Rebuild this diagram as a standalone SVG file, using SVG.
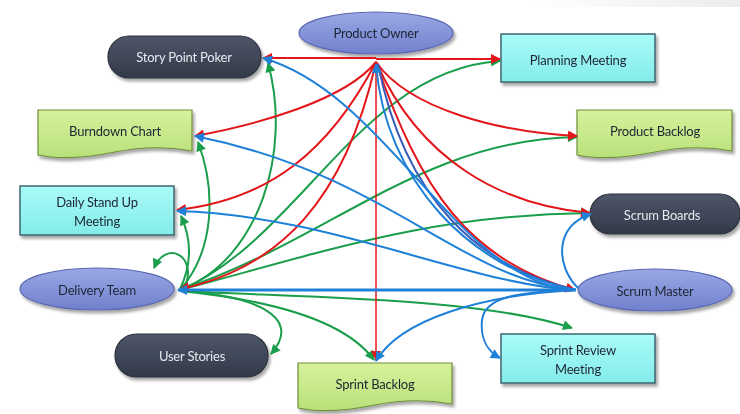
<svg xmlns="http://www.w3.org/2000/svg" width="740" height="414" viewBox="0 0 740 414">
<defs>
<style>
.lbl{font-family:"Lato","Open Sans","Liberation Sans",sans-serif;font-size:13px;text-anchor:middle;dominant-baseline:central;letter-spacing:-0.2px}
.dk{fill:#1e2533}
.lt{fill:#e6e9ee}
.c{fill:none;stroke-width:2}
.r{stroke:#e3161b;marker-end:url(#mr)}
.g{stroke:#1a9e4b;marker-end:url(#mg)}
.b{stroke:#1f80d8;marker-end:url(#mb)}
.db{stroke:#3a5cb8}
.cyan{fill:url(#gc);stroke:#3f6670;stroke-width:1.5}
.grn{fill:url(#gg);stroke:#6f8f3a;stroke-width:1.2}
.pill{fill:url(#gd);stroke:#2a303c;stroke-width:1.2}
.ell{fill:url(#ge);stroke:#5a68b0;stroke-width:1.2}
</style>
<linearGradient id="gc" x1="0" y1="0" x2="0" y2="1"><stop offset="0" stop-color="#a9fbf8"/><stop offset="1" stop-color="#84ece9"/></linearGradient>
<linearGradient id="gg" x1="0" y1="0" x2="0" y2="1"><stop offset="0" stop-color="#d6f29c"/><stop offset="1" stop-color="#b9e07a"/></linearGradient>
<linearGradient id="gd" x1="0" y1="0" x2="0" y2="1"><stop offset="0" stop-color="#4e5668"/><stop offset="1" stop-color="#323949"/></linearGradient>
<linearGradient id="ge" x1="0" y1="0" x2="0" y2="1"><stop offset="0" stop-color="#9aa8e6"/><stop offset="1" stop-color="#7080cc"/></linearGradient>
<linearGradient id="gb" x1="0" y1="0" x2="1" y2="0"><stop offset="0" stop-color="#ffffff"/><stop offset="1" stop-color="#ececec"/></linearGradient>
<filter id="sh" x="-10%" y="-20%" width="130%" height="160%"><feDropShadow dx="2" dy="3" stdDeviation="1.8" flood-color="#000" flood-opacity="0.35"/></filter>
<marker id="mr" viewBox="0 0 10 10" refX="9" refY="5" markerWidth="11" markerHeight="10" markerUnits="userSpaceOnUse" orient="auto"><path d="M0,0 L10,5 L0,10 z" fill="#e3161b"/></marker>
<marker id="mg" viewBox="0 0 10 10" refX="9" refY="5" markerWidth="11" markerHeight="10" markerUnits="userSpaceOnUse" orient="auto"><path d="M0,0 L10,5 L0,10 z" fill="#1a9e4b"/></marker>
<marker id="mb" viewBox="0 0 10 10" refX="9" refY="5" markerWidth="11" markerHeight="10" markerUnits="userSpaceOnUse" orient="auto"><path d="M0,0 L10,5 L0,10 z" fill="#1f80d8"/></marker>
</defs>
<rect x="0" y="0" width="740" height="414" fill="#ffffff"/>
<rect x="530" y="0" width="210" height="7" fill="url(#gb)"/>

<g id="nodes">
<g id="product-owner" filter="url(#sh)"><ellipse class="ell" cx="376" cy="33" rx="77" ry="21"/><text class="lbl dk" x="376" y="33">Product Owner</text></g>
<g id="story-point-poker" filter="url(#sh)"><rect class="pill" x="108" y="36" width="153" height="42" rx="21"/><text class="lbl lt" x="184" y="57">Story Point Poker</text></g>
<g id="planning-meeting" filter="url(#sh)"><rect class="cyan" x="501" y="34" width="154" height="48"/><text class="lbl dk" x="578" y="60">Planning Meeting</text></g>
<g id="burndown-chart" filter="url(#sh)"><path class="grn" d="M38,110 H192 V151 C165,146 140,147 115,152 C90,157 62,160 38,155 Z"/><text class="lbl dk" x="115" y="131">Burndown Chart</text></g>
<g id="product-backlog" filter="url(#sh)"><path class="grn" d="M577,110 H732 V151 C705,146 680,147 655,152 C630,157 601,160 577,155 Z"/><text class="lbl dk" x="655" y="131">Product Backlog</text></g>
<g id="daily-stand-up" filter="url(#sh)"><rect class="cyan" x="20" y="186" width="154" height="49"/><text class="lbl dk" x="97" y="202">Daily Stand Up</text><text class="lbl dk" x="97" y="221">Meeting</text></g>
<g id="scrum-boards" filter="url(#sh)"><rect class="pill" x="590" y="194" width="150" height="40" rx="20"/><text class="lbl lt" x="662" y="215">Scrum Boards</text></g>
<g id="delivery-team" filter="url(#sh)"><ellipse class="ell" cx="97" cy="289" rx="77" ry="21"/><text class="lbl dk" x="97" y="290">Delivery Team</text></g>
<g id="scrum-master" filter="url(#sh)"><ellipse class="ell" cx="655" cy="290" rx="77" ry="21"/><text class="lbl dk" x="655" y="291">Scrum Master</text></g>
<g id="user-stories" filter="url(#sh)"><rect class="pill" x="115" y="334" width="153" height="43" rx="21.5"/><text class="lbl lt" x="192" y="356">User Stories</text></g>
<g id="sprint-backlog" filter="url(#sh)"><path class="grn" d="M298,363 H452 V404 C425,399 400,400 375,405 C350,410 322,413 298,408 Z"/><text class="lbl dk" x="375" y="384">Sprint Backlog</text></g>
<g id="sprint-review-meeting" filter="url(#sh)"><rect class="cyan" x="501" y="334" width="154" height="49"/><text class="lbl dk" x="578" y="350">Sprint Review</text><text class="lbl dk" x="578" y="369">Meeting</text></g>
</g>

<g id="connectors">
<!-- green from Delivery Team -->
<path class="c g" d="M180,290 C260,260 292,150 268,63"/>
<path class="c g" d="M180,290 C215,250 216,190 198,142"/>
<path class="c g" d="M180,289 C193,262 191,238 181,216"/>
<path class="c g" d="M186,284 C196,255 166,240 154,268"/>
<path class="c g" d="M180,290 C300,240 360,70 500,61"/>
<path class="c g" d="M180,290 C330,240 420,140 577,137"/>
<path class="c g" d="M180,290 C330,250 430,215 590,213"/>
<path class="c g" d="M180,291 C320,298 480,298 572,328"/>
<path class="c g" d="M180,291 C250,295 305,315 271,354"/>
<path class="c g" d="M180,291 C270,300 345,320 374,360"/>
<!-- red from Product Owner -->
<path class="c r" d="M376,59 H500"/>
<path class="c r" d="M376,58 H263"/>
<path class="c r" d="M376,62 C345,100 260,124 195,136"/>
<path class="c r" d="M376,62 C330,150 270,200 177,210"/>
<path class="c r" d="M376,62 C345,200 280,268 180,289"/>
<path class="c r" d="M376,62 C410,110 500,132 577,136"/>
<path class="c r" d="M376,62 C420,160 500,205 590,213"/>
<path class="c r" d="M376,62 C420,190 470,262 575,290"/>
<path class="c r" style="stroke-width:1.5" d="M376,62 V360"/>
<!-- blue from Scrum Master -->
<path class="c db" d="M378,64 C405,200 480,268 576,290"/>
<path class="c b" d="M576,290 C460,285 390,95 263,58"/>
<path class="c b" d="M576,290 C460,280 390,175 195,136"/>
<path class="c b" d="M576,290 C470,285 330,215 177,211"/>
<path class="c b" d="M576,290 C470,270 385,180 376,64"/>
<path class="c b" style="stroke-width:3" d="M576,290 H178"/>
<path class="c b" d="M576,290 C480,295 400,320 376,361"/>
<path class="c b" d="M576,290 C520,292 485,296 482,320 C480,340 489,352 500,358"/>
<path class="c b" d="M578,288 C555,265 555,225 591,214"/>
</g>
</svg>
